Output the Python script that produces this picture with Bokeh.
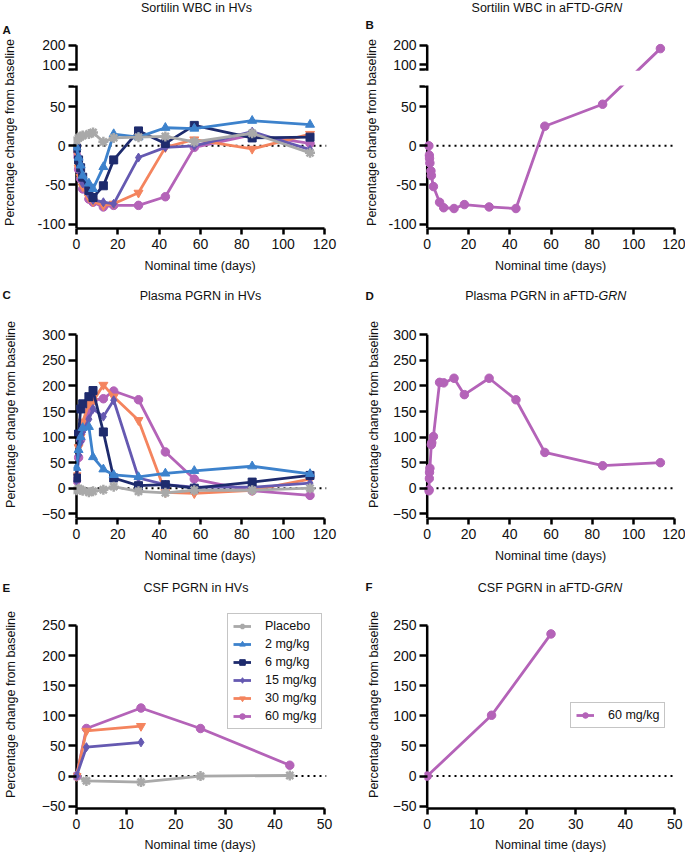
from bokeh.plotting import figure
from bokeh.layouts import column, row
from bokeh.models import (Range1d, LinearAxis, FixedTicker, Span, BoxAnnotation, Label,
                          Legend, LegendItem, ColumnDataSource, CustomJSTransform)
from bokeh.transform import transform
from bokeh.embed import file_html
from bokeh.resources import INLINE

FONT = "Liberation Sans"
NAN = float("nan")

# ---------------- data ----------------
groups = ["Placebo", "2 mg/kg", "6 mg/kg", "15 mg/kg", "30 mg/kg", "60 mg/kg"]
hv_days = [0, 1, 2, 3, 6, 8, 13, 18, 30, 43, 57, 85, 113]

# A: Sortilin WBC in HVs
wbc_hv_placebo = [7, 10, 12, 13, 15, 17, 5, 10, 11, 12, 5, 16, -9]
wbc_hv_2 = [-2, -15, -25, -38, -48, -55, -27, 15, 11, 23, 22, 32, 27]
wbc_hv_6 = [-3, -18, -28, -40, -57, -66, -51, -18, 19, 3, 26, 10, 11]
wbc_hv_15 = [-5, -22, -35, -48, -62, -69, -72, -74, -15, -2, 0, 18, -5]
wbc_hv_30 = [-8, -28, -40, -52, -66, -71, -76, -74, -60, -2, 8, -4, 15]
wbc_hv_60 = [-12, -30, -42, -55, -68, -72, -78, -76, -76, -65, -2, 14, 3]

# B: Sortilin WBC in aFTD-GRN (60 mg/kg)
wbc_ftd_days = [0.8, 1.0, 1.1, 1.3, 1.8, 2.0, 3, 6, 8, 13, 18, 30, 43, 57, 85, 113]
wbc_ftd_60 = [0, -12, -16, -22, -32, -38, -52, -72, -79, -80, -75, -78, -80, 25, 53, 183]

# C: Plasma PGRN in HVs
pl_hv_placebo = [-4, -1, -3, -5, -8, -6, -3, 3, -6, -9, -4, -4, 0]
pl_hv_2 = [40, 75, 100, 118, 120, 61, 37, 26, 22, 29, 34, 43, 28]
pl_hv_6 = [20, 106, 155, 165, 179, 191, 110, 20, 5, 7, 0, 12, 25]
pl_hv_15 = [15, 65, 90, 110, 135, 155, 140, 172, 20, 7, 2, 2, 10]
pl_hv_30 = [25, 80, 100, 130, 165, 170, 202, 179, 133, -8, -10, -4, 18]
pl_hv_60 = [15, 60, 95, 120, 150, 172, 175, 190, 173, 71, 18, -5, -14]

# D: Plasma PGRN in aFTD-GRN (60 mg/kg)
pl_ftd_days = [0.8, 0.9, 1.0, 1.1, 1.3, 2.0, 2.2, 3, 6, 8, 13, 18, 30, 43, 57, 85, 113]
pl_ftd_60 = [-5, -3, 19, 31, 39, 85, 89, 101, 207, 206, 215, 183, 215, 173, 70, 44, 50]

# E: CSF PGRN in HVs (no CSF data for 2 and 6 mg/kg)
csf_hv_days_long = [0, 2, 13, 25, 43]
csf_hv_days_short = [0, 2, 13]
csf_hv_days_none = [NAN]
csf_hv_placebo = [0, -8, -10, 0, 1]
csf_hv_2 = [NAN]
csf_hv_6 = [NAN]
csf_hv_15 = [0, 48, 56]
csf_hv_30 = [0, 75, 83]
csf_hv_60 = [0, 79, 113, 79, 18]

# F: CSF PGRN in aFTD-GRN
csf_ftd_days = [0, 13, 25]
csf_ftd_60 = [0, 101, 236]

x_ticks_long = [0, 20, 40, 60, 80, 100, 120]
x_ticks_short = [0, 10, 20, 30, 40, 50]
y_ticks_wbc_low = [-100, -50, 0, 50]
y_ticks_wbc_high = [100, 200]
y_ticks_plasma = [-50, 0, 50, 100, 150, 200, 250, 300]
y_ticks_csf = [-50, 0, 50, 100, 150, 200, 250]

STY = {
    "Placebo": ("#a9a9a9", "asterisk", 10),
    "2 mg/kg": ("#3d82cc", "triangle", 9),
    "6 mg/kg": ("#1e2b6d", "square", 8),
    "15 mg/kg": ("#6559b1", "diamond", 9),
    "30 mg/kg": ("#f4845e", "inverted_triangle", 9),
    "60 mg/kg": ("#b463b8", "circle", 8.5),
}

# ---------------- broken y axis (panels A, B) ----------------
BRK_LO, BRK_HI, GAP, K = 75, 76, 22.6, 0.2462


def brk(v):
    return v if v <= BRK_LO else BRK_LO + GAP + (v - BRK_HI) * K


brk_js = CustomJSTransform(
    func=f"return x <= {BRK_LO} ? x : {BRK_LO} + {GAP} + (x - {BRK_HI}) * {K};",
    v_func=(f"const out = new Array(xs.length);"
            f"for (let i = 0; i < xs.length; i++) {{ const x = xs[i];"
            f" out[i] = x <= {BRK_LO} ? x : {BRK_LO} + {GAP} + (x - {BRK_HI}) * {K}; }}"
            f"return out;"))

wbc_tick_pos = []
wbc_tick_lab = {}
for v in y_ticks_wbc_low + [BRK_LO, BRK_HI] + y_ticks_wbc_high:
    pos = round(brk(v), 3)
    wbc_tick_pos.append(pos)
    wbc_tick_lab[pos] = "" if v in (BRK_LO, BRK_HI) else str(v)


# ---------------- helpers ----------------
def make_panel(width, height, xr, yr, mb):
    p = figure(width=width, height=height, x_range=Range1d(*xr), y_range=Range1d(*yr),
               x_axis_type=None, y_axis_type=None, title=None,
               output_backend="svg", toolbar_location=None,
               min_border_left=mb[0], min_border_right=mb[1],
               min_border_top=mb[2], min_border_bottom=mb[3])
    p.outline_line_color = None
    return p


def make_strip(width, height):
    s = figure(width=width, height=height, x_range=Range1d(0, width), y_range=Range1d(height, 0),
               x_axis_type=None, y_axis_type=None, title=None,
               output_backend="svg", toolbar_location=None, min_border=0)
    s.outline_line_color = None
    return s


def style_axis(ax):
    ax.axis_line_width = 2.5
    ax.axis_line_color = "black"
    ax.major_tick_line_width = 2.5
    ax.major_tick_line_color = "black"
    ax.minor_tick_line_color = None
    ax.major_label_text_font = FONT
    ax.major_label_text_font_size = "14px"
    ax.major_label_text_color = "#111111"
    ax.axis_label_text_font = FONT
    ax.axis_label_text_font_size = "12.5px"
    ax.axis_label_text_font_style = "normal"
    ax.axis_label_text_color = "#111111"


def add_axes(p, xticks, xbounds, yticks, ybottom, ytop, ylab_standoff,
             overrides=None, xlab_standoff=7):
    xa = LinearAxis(ticker=FixedTicker(ticks=xticks), bounds=xbounds,
                    axis_label="Nominal time (days)")
    style_axis(xa)
    xa.major_tick_out = 6
    xa.major_tick_in = 0
    xa.major_label_standoff = 4
    xa.axis_label_standoff = xlab_standoff
    p.add_layout(xa, "below")

    ya = LinearAxis(ticker=FixedTicker(ticks=yticks), bounds=(ybottom, ytop),
                    axis_label="Percentage change from baseline")
    style_axis(ya)
    ya.axis_line_color = None          # the axis line is drawn at x = 0 below
    ya.major_tick_out = 5
    ya.major_tick_in = 3
    ya.major_label_standoff = 3
    ya.axis_label_standoff = int(ylab_standoff)
    if overrides:
        ya.major_label_overrides = overrides
    p.add_layout(ya, "left")

    # y-axis line at x = 0 (from the bottom of the frame to the top tick)
    p.segment(x0=[xticks[0]], y0=[ybottom], x1=[xticks[0]], y1=[ytop],
              line_color="black", line_width=2.5)


def baseline(p):
    p.add_layout(Span(location=0, dimension="width", line_color="black", line_width=2,
                      line_dash="2 4", level="underlay"))


def draw(p, xs, ys, name, ytrans=None):
    color, marker, size = STY[name]
    src = ColumnDataSource(dict(x=list(xs), y=list(ys)))
    yspec = transform("y", ytrans) if ytrans is not None else "y"
    r1 = p.line(x="x", y=yspec, source=src, line_color=color, line_width=2.8)
    r2 = p.scatter(x="x", y=yspec, source=src, marker=marker, size=size,
                   fill_color=color, line_color=color,
                   line_width=2.5 if marker == "asterisk" else 1)
    return [r1, r2]


def add_text(s, x, y, text, size="12.5px", style="normal", align="center"):
    s.add_layout(Label(x=x, y=y, text=text,
                       text_font=FONT, text_font_size=size, text_font_style=style,
                       text_align=align, text_baseline="middle", text_color="#111111"))


def add_title_grn(s, x, y, text):
    add_text(s, x, y, text, align="right")
    add_text(s, x, y, "GRN", style="italic", align="left")


def add_letter(s, x, y, letter):
    add_text(s, x, y, letter, size="11.5px", style="bold", align="left")


def add_legend(p, items, loc):
    lg = Legend(items=items, location=loc, orientation="vertical",
                label_text_font=FONT, label_text_font_size="12.5px",
                label_text_color="#111111",
                glyph_width=18, glyph_height=14, label_height=14,
                label_standoff=14, spacing=4, padding=5, margin=0,
                border_line_color="#8c8c8c", border_line_width=1,
                background_fill_color="white", background_fill_alpha=1)
    p.add_layout(lg)


def add_gap_mask(p):
    p.add_layout(BoxAnnotation(bottom=BRK_LO + 1.8, top=brk(BRK_HI) - 1.8,
                               fill_color="white", fill_alpha=1, line_color=None,
                               level="annotation"))


ORDER = ["60 mg/kg", "30 mg/kg", "15 mg/kg", "6 mg/kg", "2 mg/kg", "Placebo"]

# ---------------- title strips ----------------
sA = make_strip(340, 34)
add_text(sA, 196, 7, "Sortilin WBC in HVs")
add_letter(sA, 2, 29, "A")
sB = make_strip(345, 34)
add_title_grn(sB, 254, 7, "Sortilin WBC in aFTD-")
add_letter(sB, 25, 24, "B")

sC = make_strip(340, 18)
add_text(sC, 200, 7, "Plasma PGRN in HVs")
add_letter(sC, 2, 6, "C")
sD = make_strip(345, 18)
add_title_grn(sD, 258, 7, "Plasma PGRN in aFTD-")
add_letter(sD, 25, 7, "D")

sE = make_strip(340, 19)
add_text(sE, 195.5, 9, "CSF PGRN in HVs")
add_letter(sE, 2, 9, "E")
sF = make_strip(345, 19)
add_title_grn(sF, 254, 9, "CSF PGRN in aFTD-")
add_letter(sF, 25, 8, "F")

# ---------------- panel A ----------------
YR_WBC = (-105.5, 139.4)
WBC_TOP = round(brk(200), 3)
pA = make_panel(340, 254, (-1.45, 120.97), YR_WBC, (73, 14, 2, 60))
baseline(pA)
add_axes(pA, x_ticks_long, (0, 120), wbc_tick_pos, YR_WBC[0], WBC_TOP, 17,
         overrides=wbc_tick_lab)
wbc_hv = {"Placebo": wbc_hv_placebo, "2 mg/kg": wbc_hv_2, "6 mg/kg": wbc_hv_6,
          "15 mg/kg": wbc_hv_15, "30 mg/kg": wbc_hv_30, "60 mg/kg": wbc_hv_60}
for g in ORDER:
    draw(pA, hv_days, wbc_hv[g], g, brk_js)
add_gap_mask(pA)

# ---------------- panel B ----------------
pB = make_panel(345, 254, (-1.31, 120.8), YR_WBC, (84, 9, 2, 60))
baseline(pB)
add_axes(pB, x_ticks_long, (0, 120), wbc_tick_pos, YR_WBC[0], WBC_TOP, 6,
         overrides=wbc_tick_lab)
draw(pB, wbc_ftd_days, wbc_ftd_60, "60 mg/kg", brk_js)
add_gap_mask(pB)

# ---------------- panel C ----------------
YR_PL = (-59.2, 347.5)
pC = make_panel(340, 272, (-1.45, 120.97), YR_PL, (73, 14, 4, 60))
baseline(pC)
add_axes(pC, x_ticks_long, (0, 120), y_ticks_plasma, YR_PL[0], 300, 21)
pl_hv = {"Placebo": pl_hv_placebo, "2 mg/kg": pl_hv_2, "6 mg/kg": pl_hv_6,
         "15 mg/kg": pl_hv_15, "30 mg/kg": pl_hv_30, "60 mg/kg": pl_hv_60}
for g in ORDER:
    draw(pC, hv_days, pl_hv[g], g)

# ---------------- panel D ----------------
pD = make_panel(345, 272, (-1.31, 120.8), YR_PL, (84, 9, 4, 60))
baseline(pD)
add_axes(pD, x_ticks_long, (0, 120), y_ticks_plasma, YR_PL[0], 300, 9)
draw(pD, pl_ftd_days, pl_ftd_60, "60 mg/kg")

# ---------------- panel E ----------------
YR_CSF = (-53.8, 291.5)
pE = make_panel(340, 259, (-0.605, 50.4), YR_CSF, (73, 14, 3, 48))
baseline(pE)
add_axes(pE, x_ticks_short, (0, 50), y_ticks_csf, YR_CSF[0], 250, 21, xlab_standoff=6)
csf_series = {
    "Placebo": (csf_hv_days_long, csf_hv_placebo),
    "2 mg/kg": (csf_hv_days_none, csf_hv_2),
    "6 mg/kg": (csf_hv_days_none, csf_hv_6),
    "15 mg/kg": (csf_hv_days_short, csf_hv_15),
    "30 mg/kg": (csf_hv_days_short, csf_hv_30),
    "60 mg/kg": (csf_hv_days_long, csf_hv_60),
}
rends = {}
for g in ["Placebo", "60 mg/kg", "30 mg/kg", "15 mg/kg", "6 mg/kg", "2 mg/kg"]:
    xs, ys = csf_series[g]
    rends[g] = draw(pE, xs, ys, g)
add_legend(pE, [LegendItem(label=g, renderers=rends[g]) for g in groups], (154, 79))

# ---------------- panel F ----------------
pF = make_panel(345, 259, (-0.545, 50.34), YR_CSF, (84, 9, 3, 48))
baseline(pF)
add_axes(pF, x_ticks_short, (0, 50), y_ticks_csf, YR_CSF[0], 250, 9, xlab_standoff=6)
rF = draw(pF, csf_ftd_days, csf_ftd_60, "60 mg/kg")
add_legend(pF, [LegendItem(label="60 mg/kg", renderers=rF)], (146, 80))

layout = column(row(sA, sB), row(pA, pB),
                row(sC, sD), row(pC, pD),
                row(sE, sF), row(pE, pF))

open("out.html", "w").write(file_html(layout, INLINE))
